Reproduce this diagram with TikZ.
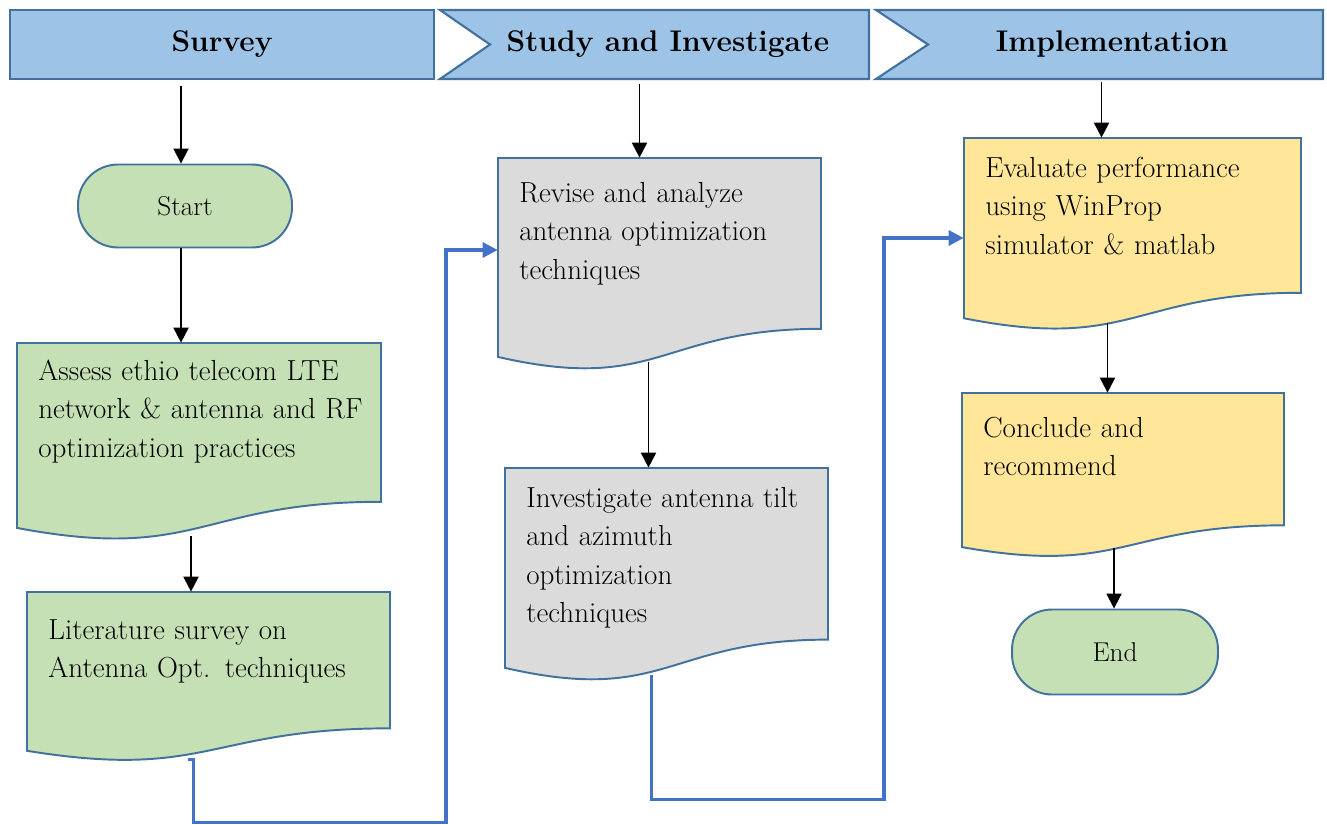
\documentclass[tikz,border=0pt]{standalone}
\usepackage{xcolor}
\usepackage{tikz}
\usetikzlibrary{arrows.meta, positioning, fit, calc}
\definecolor{hdrblue}{HTML}{9DC3E6}
\definecolor{edgeblue}{HTML}{41719C}
\definecolor{kgreen}{HTML}{C5E0B4}
\definecolor{kgrey}{HTML}{DBDBDB}
\definecolor{kyellow}{HTML}{FFE699}
\definecolor{linkblue}{HTML}{4472C4}

% document shape: name, x, y, w, h, fill, baseline offset, text
\newcommand{\docbox}[8]{%
  \pgfmathsetmacro\dbxr{#2+#4}%
  \pgfmathsetmacro\dbxm{#2+0.5*#4}%
  \pgfmathsetmacro\dbya{#3+0.802*#5}%
  \pgfmathsetmacro\dbyb{#3+1.1075*#5}%
  \pgfmathsetmacro\dbyc{#3+0.934*#5}%
  \draw[docshape, fill=#6] (#2,#3) -- (\dbxr,#3) -- (\dbxr,\dbya)
    .. controls (\dbxm,\dbya) and (\dbxm,\dbyb) .. (#2,\dbyc) -- cycle;
  \node[fit={(#2,#3) (\dbxr,\dbyc)}, inner sep=0pt] (#1) {};
  \node[doctext, anchor=base west] (#1-text) at ($(#2,#3)+(21,#7)$) {#8};
}

\begin{document}
\begin{tikzpicture}[x=0.02cm, y=-0.02cm,
  hdr/.style={fill=hdrblue, draw=edgeblue, line width=1.2pt},
  hdrtext/.style={font=\fontsize{17}{20}\selectfont\bfseries, inner sep=0pt},
  docshape/.style={draw=edgeblue, line width=1.1pt},
  doctext/.style={font=\fontsize{16.5}{22}\selectfont, align=left, text width=8cm, inner sep=0pt},
  term/.style={draw=edgeblue, line width=1.1pt, fill=kgreen, rectangle, rounded corners=0.8cm,
    font=\fontsize{15.5}{18}\selectfont},
  flow/.style={black, line width=1.1pt, -{Triangle[length=0.3cm, width=0.3cm]}},
  link/.style={linkblue, line width=1.8pt, -{Triangle[length=0.3cm, width=0.3cm]}}]
\useasboundingbox (0,0) rectangle (1327,824);

% header bar
\draw[hdr] (10,10) rectangle (434,79);
\node[fit={(10,10) (434,79)}, inner sep=0pt] (hsurvey) {};
\node[hdrtext] (hsurvey-text) at (222,44) {Survey};
\draw[hdr] (440,10) -- (869,10) -- (869,79) -- (440,79) -- (490,44.5) -- cycle;
\node[fit={(440,10) (869,79)}, inner sep=0pt] (hstudy) {};
\node[hdrtext] (hstudy-text) at (668,44) {Study and Investigate};
\draw[hdr] (876,10) -- (1323,10) -- (1323,79) -- (876,79) -- (928,44.5) -- cycle;
\node[fit={(876,10) (1323,79)}, inner sep=0pt] (himpl) {};
\node[hdrtext] (himpl-text) at (1112,44) {Implementation};

% survey column
\node[term, minimum width=4.28cm, minimum height=1.66cm] (start) at (185,206) {Start};
\docbox{assess}{17}{343}{364}{198}{kgreen}{37}{Assess ethio telecom LTE\\network \& antenna and RF\\optimization practices}
\docbox{lit}{27}{592}{363}{170}{kgreen}{47}{Literature survey on\\Antenna Opt. techniques}

% study column
\docbox{revise}{498}{158}{323}{213}{kgrey}{44}{Revise and analyze\\antenna optimization\\techniques}
\docbox{inv}{505}{468}{323}{214}{kgrey}{39}{Investigate antenna tilt\\and azimuth\\optimization\\techniques}

% implementation column
\docbox{eval}{964}{138}{337}{193}{kyellow}{39}{Evaluate performance\\using WinProp\\simulator \& matlab}
\docbox{concl}{962}{393}{322}{165}{kyellow}{44}{Conclude and\\recommend}
\node[term, minimum width=4.12cm, minimum height=1.7cm] (end) at (1115,652) {End};

% flow arrows
\draw[flow] ($(start.north |- hsurvey.south)+(-4,7)$) -- ($(start.north)+(-4,0)$);
\draw[flow] ($(start.south)+(-4,0)$) -- ($(start.south |- assess.north)+(-4,0)$);
\draw[flow] ($(assess.south)+(-8,8)$) -- ($(assess.south |- lit.north)+(-8,0)$);
\draw[flow] ($(revise.north |- hstudy.south)+(-20,5)$) -- ($(revise.north)+(-20,0)$);
\draw[flow] ($(revise.south)+(-11,5)$) -- ($(revise.south |- inv.north)+(-11,0)$);
\draw[flow] ($(eval.north |- himpl.south)+(-31,3)$) -- ($(eval.north)+(-31,0)$);
\draw[flow] ($(eval.south)+(-25,4)$) -- ($(eval.south |- concl.north)+(-25,0)$);
\draw[flow] ($(concl.south)+(-9,1)$) -- ($(concl.south |- end.north)+(-9,0)$);

% links between columns
\draw[link] ($(lit.south west)+(161,8)$) -- ++(6,0) -- ++(0,63) -| (446,250) -- (revise.west |- 446,250);
\draw[link] ($(inv.south west)+(147,7)$) -- ++(0,124) -| (884,238) -- (eval.west |- 884,238);
\end{tikzpicture}
\end{document}
